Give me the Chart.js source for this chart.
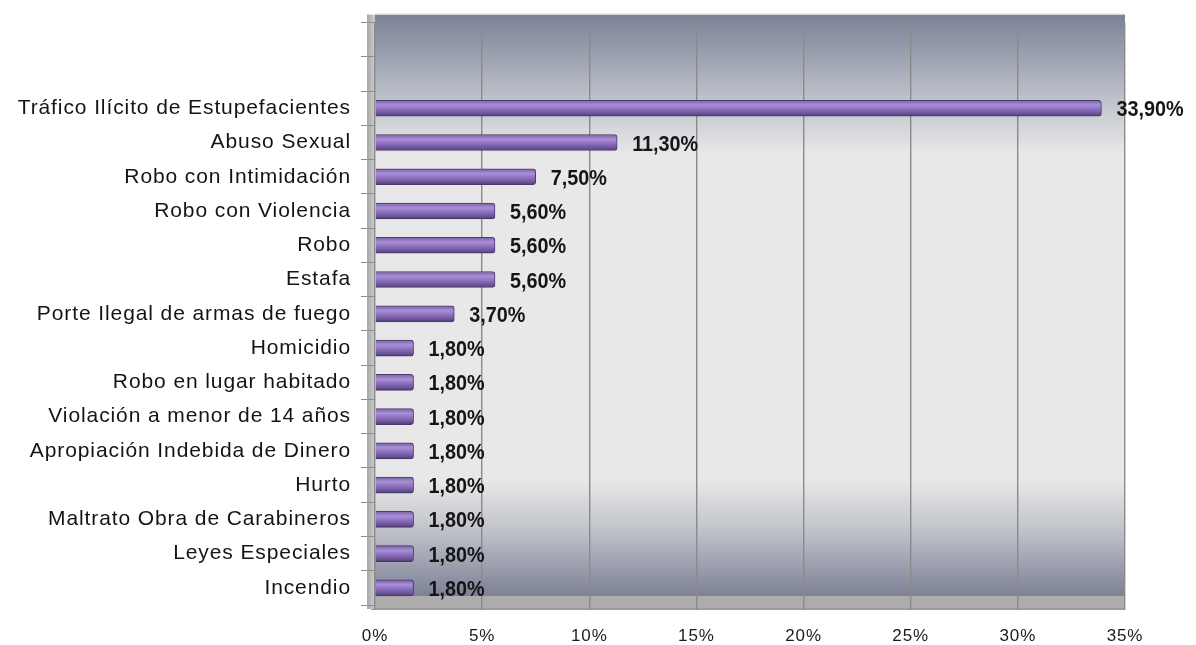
<!DOCTYPE html>
<html lang="es">
<head>
  <meta charset="UTF-8">
  <title>Delitos</title>
  <script src="https://cdn.jsdelivr.net/npm/chart.js"></script>
  <style>
    html, body { margin: 0; padding: 0; background: #fff; }
    #wrap { width: 1196px; height: 645px; }
  </style>
</head>
<body>
  <div id="wrap"><canvas id="chart"></canvas></div>

  <script>
    // two empty slots at the top, like the original 3D chart
    const categories = [
      '', '',
      'Tráfico Ilícito de Estupefacientes',
      'Abuso Sexual',
      'Robo con Intimidación',
      'Robo con Violencia',
      'Robo',
      'Estafa',
      'Porte Ilegal de armas de fuego',
      'Homicidio',
      'Robo en lugar habitado',
      'Violación a menor de 14 años',
      'Apropiación Indebida de Dinero',
      'Hurto',
      'Maltrato Obra de Carabineros',
      'Leyes Especiales',
      'Incendio'
    ];
    const percentages = [null, null, 33.9, 11.3, 7.5, 5.6, 5.6, 5.6, 3.7, 1.8, 1.8, 1.8, 1.8, 1.8, 1.8, 1.8, 1.8];
    const xTicks = [0, 5, 10, 15, 20, 25, 30, 35];

    const fmt = v => v.toFixed(2).replace('.', ',') + '%';

    // back wall gradient + floor strip + left wall
    const wallPlugin = {
      id: 'wall',
      beforeLayout(chart) {
        chart.ctx.letterSpacing = '0.9px';
      },
      beforeDraw(chart) {
        const { ctx, chartArea: a } = chart;
        const top = a.top - 8, bottom = a.bottom - 9;
        ctx.save();
        const g = ctx.createLinearGradient(0, top, 0, bottom);
        g.addColorStop(0, '#7b8296');
        g.addColorStop(0.15, '#c0c4cc');
        g.addColorStop(0.24, '#e8e8e8');
        g.addColorStop(0.8, '#e8e8e8');
        g.addColorStop(0.88, '#c4c6cd');
        g.addColorStop(1, '#7c8195');
        ctx.fillStyle = g;
        ctx.fillRect(a.left, top, a.right - a.left, bottom - top);
        // floor
        ctx.fillStyle = '#adadad';
        ctx.fillRect(a.left - 4, bottom, a.right - a.left + 4, 13);
        ctx.fillStyle = '#9c9c9c';
        ctx.fillRect(a.left - 4, bottom + 12, a.right - a.left + 4, 2);
        // left side wall
        const lg = ctx.createLinearGradient(a.left - 8, 0, a.left, 0);
        lg.addColorStop(0, '#a6a6a6');
        lg.addColorStop(1, '#cfcfcf');
        ctx.fillStyle = lg;
        ctx.fillRect(a.left - 8, top, 8, bottom - top + 13);
        // top edge
        ctx.fillStyle = '#d8d8d8';
        ctx.fillRect(a.left, top - 1, a.right - a.left, 1);
        ctx.restore();
      }
    };

    // value labels at the end of each bar (slightly condensed bold)
    const valueLabels = {
      id: 'valueLabels',
      afterDatasetsDraw(chart) {
        const { ctx } = chart;
        const meta = chart.getDatasetMeta(0);
        const sx = 0.9;
        ctx.save();
        ctx.letterSpacing = '0px';
        ctx.font = "bold 22px 'Liberation Sans', Arial, sans-serif";
        ctx.fillStyle = '#151515';
        ctx.textBaseline = 'middle';
        ctx.textAlign = 'left';
        meta.data.forEach((bar, i) => {
          const v = percentages[i];
          if (v == null) return;
          const txt = fmt(v);
          const w = ctx.measureText(txt).width * sx;
          let x = bar.x + 15;
          if (x + w > chart.width - 4) x = chart.width - 4 - w;
          ctx.save();
          ctx.translate(x, bar.y + 2);
          ctx.scale(sx, 1);
          ctx.fillText(txt, 0, 0);
          ctx.restore();
        });
        ctx.restore();
      }
    };

    function barFill(c) {
      const chart = c.chart;
      if (!chart.chartArea || c.dataIndex == null) return '#8a6cbf';
      const y = chart.scales.y.getPixelForValue(c.dataIndex);
      const g = chart.ctx.createLinearGradient(0, y - 8, 0, y + 8);
      g.addColorStop(0, '#7a60a6');
      g.addColorStop(0.3, '#a890d6');
      g.addColorStop(0.55, '#8e71c1');
      g.addColorStop(0.85, '#6a5296');
      g.addColorStop(1, '#4a3a68');
      return g;
    }

    new Chart(document.getElementById('chart'), {
      type: 'bar',
      data: {
        labels: categories,
        datasets: [{
          data: percentages,
          backgroundColor: barFill,
          borderColor: '#4b3a6c',
          borderWidth: 1,
          borderRadius: 3,
          borderSkipped: 'start',
          barThickness: 16
        }]
      },
      options: {
        indexAxis: 'y',
        responsive: true,
        maintainAspectRatio: false,
        animation: false,
        layout: { padding: { top: 21, right: 71, bottom: 0, left: 0 } },
        plugins: {
          legend: { display: false },
          tooltip: { enabled: false }
        },
        scales: {
          x: {
            min: 0,
            max: 35,
            afterBuildTicks(scale) {
              scale.ticks = xTicks.map(v => ({ value: v }));
            },
            afterFit(scale) { scale.height = 40; },
            grid: {
              color: '#8a8a8a',
              lineWidth: 1.4,
              tickLength: 5,
              tickColor: '#8a8a8a'
            },
            border: { display: false },
            ticks: {
              padding: 18,
              color: '#1a1a1a',
              font: { family: "'Liberation Sans', Arial, sans-serif", size: 17, lineHeight: 1 },
              callback: v => v + '%'
            }
          },
          y: {
            afterFit(scale) { scale.width = 375; },
            grid: {
              drawOnChartArea: false,
              tickLength: 14,
              tickColor: '#8e8e8e',
              offset: true
            },
            border: { display: false },
            ticks: {
              padding: 10,
              color: '#141414',
              autoSkip: false,
              font: { family: "'Liberation Sans', Arial, sans-serif", size: 21 }
            }
          }
        }
      },
      plugins: [wallPlugin, valueLabels]
    });
  </script>
</body>
</html>
